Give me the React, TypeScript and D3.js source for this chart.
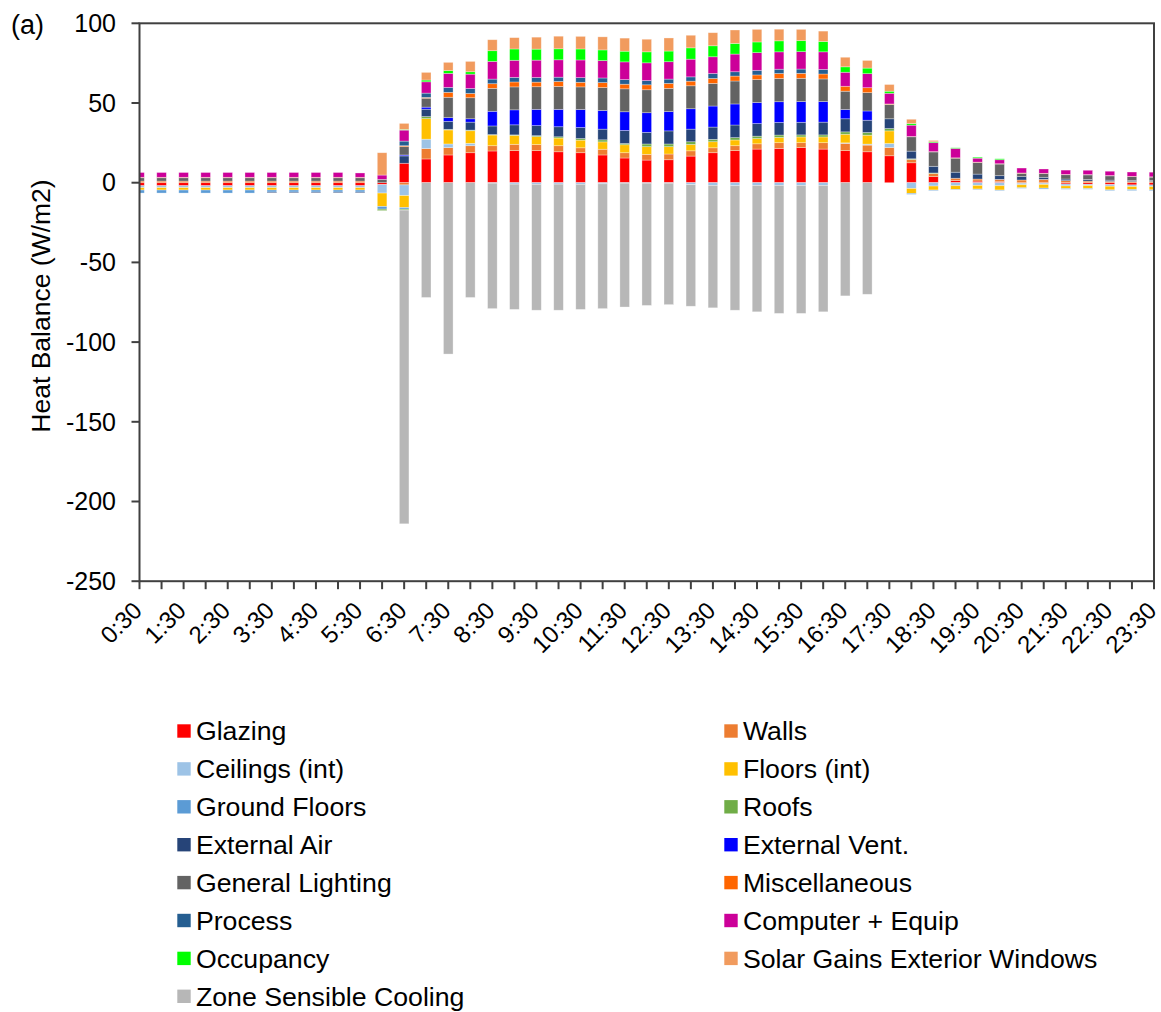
import React from 'react';
import * as d3 from 'd3';

const times = ['0:30','1:00','1:30','2:00','2:30','3:00','3:30','4:00','4:30','5:00','5:30','6:00','6:30','7:00','7:30','8:00','8:30','9:00','9:30','10:00','10:30','11:00','11:30','12:00','12:30','13:00','13:30','14:00','14:30','15:00','15:30','16:00','16:30','17:00','17:30','18:00','18:30','19:00','19:30','20:00','20:30','21:00','21:30','22:00','22:30','23:00','23:30'];

const glazing = [-1.9,-1.9,-1.9,-1.9,-1.9,-1.9,-1.9,-1.9,-1.9,-1.9,-1.9,-1.2,12.2,14.9,17.4,18.8,19.9,20.1,20.1,19.4,18.8,17.4,15.5,14.2,14.4,16.7,18.8,20.1,21.1,21.5,22.0,21.1,20.1,19.4,16.9,12.5,3.8,1.3,1.0,0.6,-0.3,-0.3,-0.8,-1.0,-1.2,-1.4,-1.4];
const walls = [1.0,1.0,1.0,1.0,1.0,1.0,1.0,1.0,1.0,1.0,1.0,0,-1.4,6.5,4.6,4.4,3.3,4.0,3.8,3.8,3.1,3.6,3.3,3.6,3.6,3.3,3.1,3.1,3.3,3.6,3.1,4.0,4.6,4.2,5.2,2.1,2.0,1.5,1.3,1.5,1.7,2.1,1.3,1.0,0.8,0.7,0.8];
const ceilings = [-1.2,-1.2,-1.2,-1.2,-1.2,-1.2,-1.2,-1.2,-1.2,-1.2,-1.2,-5.3,-6.7,5.9,2.3,1.5,-0.3,-0.9,-1.0,-0.9,-1.0,-0.7,-0.3,-0.3,-0.3,-1.2,-1.7,-1.9,-1.7,-1.7,-1.7,-1.7,0.3,0.6,2.5,-3.6,-2.1,-1.9,-1.7,-1.9,-1.0,-0.8,-1.2,-0.8,-1.0,-1.0,-1.0];
const floors = [-1.5,-1.5,-1.5,-1.5,-1.5,-1.5,-1.5,-1.5,-1.5,-1.5,-1.5,-8.4,-7.5,12.9,8.8,7.9,6.7,5.6,5.0,4.8,4.8,4.6,5.0,4.8,4.6,4.0,3.8,3.6,3.3,3.3,3.6,3.6,5.4,5.6,7.9,-3.1,-2.5,-2.3,-2.3,-2.7,-1.9,-2.3,-1.7,-1.9,-2.3,-1.9,-2.1];
const groundFloors = [-1.9,-1.9,-1.9,-1.9,-1.9,-1.9,-1.3,-1.3,-1.3,-1.3,-1.3,-1.7,-1.0,0,0,0,0,0,0,0,0,0,0,0,0,0,0,0,0,0,0,0,0,0,0,-0.6,-0.4,-0.3,-0.3,-0.3,-0.3,-0.6,-0.4,-0.4,-0.4,-0.6,-0.5];
const roofs = [0,0,0,0,0,0,0,0,0,0,0,-0.9,-0.6,1.3,0.4,0.4,0.3,0.3,0.6,0.8,1.0,1.3,0.8,1.7,1.7,1.7,1.5,1.5,1.5,1.5,1.3,1.3,1.5,1.7,1.5,0.4,0.3,0,0,0,0,0,0,0,0,0,0];
const externalAir = [0,0,0,0,0,0,-0.5,-0.5,-0.5,-0.5,-0.5,0,4.6,4.6,5.0,5.0,5.4,6.3,6.3,6.3,6.9,6.7,8.2,7.3,8.2,7.9,7.7,7.9,7.9,7.9,7.9,8.0,8.2,7.7,6.1,4.8,4.2,3.8,3.1,2.3,2.1,1.3,1.0,1.0,0.8,0.6,0.6];
const externalVent = [0,0,0,0,0,0,0,0,0,0,0,0,0.6,1.3,2.3,2.1,9.2,9.4,10.2,10.9,11.3,11.7,11.7,12.3,12.1,12.8,13.2,13.2,13.2,13.0,13.0,12.9,5.8,5.8,0,0,0,0,0,0,0,0,0,0,0,0,0];
const generalLighting = [2.1,2.1,2.1,2.1,2.1,2.1,2.1,2.1,2.1,2.1,2.1,2.1,5.2,5.6,12.8,13.2,14.4,14.4,14.2,14.4,14.2,14.4,14.4,14.4,14.6,14.4,14.2,14.4,14.4,14.6,14.6,14.2,11.5,11.5,9.0,9.0,9.0,8.8,7.3,7.3,2.1,2.3,2.7,2.9,2.7,2.5,2.1];
const miscellaneous = [0.3,0.3,0.3,0.3,0.3,0.3,0.3,0.3,0.3,0.3,0.3,0,0.6,0.5,3.1,2.7,2.9,3.1,2.9,3.1,2.9,3.1,2.9,3.1,3.1,2.9,3.1,3.1,2.9,3.1,3.1,3.1,3.1,3.1,0.3,0.2,0.2,0.2,0.2,0.2,0.2,0.2,0.2,0.2,0.2,0.2,0.2];
const processGains = [0,0,0,0,0,0,0,0,0,0,0,0,2.9,2.7,3.1,3.1,2.9,2.9,2.9,2.7,2.9,2.9,2.9,2.7,2.7,2.7,3.1,2.7,2.9,2.7,2.7,2.9,0,0,0,0,0,0,0,0,0,0,0,0,0,0,0];
const computerEquip = [3.0,3.0,3.0,3.0,3.0,3.0,3.0,3.0,3.0,3.0,2.7,2.7,6.9,7.1,8.8,9.0,11.1,10.7,10.9,10.9,11.1,10.9,11.1,11.1,10.9,11.1,10.5,11.1,11.1,10.9,10.9,11.0,8.8,8.8,6.7,7.1,5.6,5.9,2.5,2.5,3.1,2.7,2.7,2.7,2.7,2.7,2.9];
const occupancy = [0,0,0,0,0,0,0,0,0,0,0,0,0.4,1.1,1.7,1.5,6.7,7.1,6.9,6.9,6.9,6.7,6.7,6.9,6.7,7.1,6.9,6.7,6.7,6.9,6.9,6.5,3.4,3.5,1.3,1.0,0.6,0.4,0.6,0.6,0,0,0,0,0,0,0];
const solarGains = [0,0,0,0,0,0,0,0,0,0,0,14.0,3.8,4.8,5.2,6.5,6.9,7.1,7.5,7.9,7.9,8.2,8.2,7.9,8.2,7.9,8.2,8.4,7.9,7.3,7.1,6.5,6.0,4.8,4.2,2.7,0.8,0,0,0,0,0,0,0,0,0,0];
const zoneCooling = [0,0,0,0,0,0,0,0,0,0,0,0,-196.8,-72,-107.5,-72,-78.7,-78.6,-79.0,-79.1,-78.5,-78.3,-77.7,-76.7,-76.2,-76.3,-76.8,-78.1,-79.3,-80.3,-80.3,-79.3,-71,-70,0,0,0,0,0,0,0,0,0,0,0,0,0];

const seriesNames = ['Glazing','Walls','Ceilings (int)','Floors (int)','Ground Floors','Roofs','External Air','External Vent.','General Lighting','Miscellaneous','Process','Computer + Equip','Occupancy','Solar Gains Exterior Windows','Zone Sensible Cooling'];
const seriesValues = [glazing, walls, ceilings, floors, groundFloors, roofs, externalAir, externalVent, generalLighting, miscellaneous, processGains, computerEquip, occupancy, solarGains, zoneCooling];
const seriesColors = ['#FF0000','#ED7D31','#9DC3E6','#FFC000','#5B9BD5','#70AD47','#264478','#0000FF','#636363','#FF6600','#255E91','#CC0099','#00FF00','#F19B5E','#B7B7B7'];
const yTicks = [100, 50, 0, -50, -100, -150, -200, -250];

const FONT = '"Liberation Sans", Arial, sans-serif';

export default function App() {
  const W = 1161, H = 1012;
  const left = 139.5, right = 1154, top = 23.3, bottom = 581.2;
  const x = d3.scalePoint<string>().domain(times).range([left, right]);
  const y = d3.scaleLinear().domain([-250, 100]).range([bottom, top]);
  const barW = 9.6;

  const rows = times.map((t, i) => {
    const r: any = { time: t };
    seriesNames.forEach((n, k) => { r[n] = seriesValues[k][i]; });
    return r;
  });
  const stacked = d3.stack<any>().keys(seriesNames).offset(d3.stackOffsetDiverging)(rows);

  return (
    <svg width={W} height={H} style={{ position: 'absolute', left: 0, top: 0, display: 'block', background: '#fff' }} fontFamily={FONT}>
      <defs>
        <clipPath id="plotClip">
          <rect x={left} y={top} width={right - left} height={bottom - top} />
        </clipPath>
      </defs>
      <text x={11} y={34} fontSize={27} fill="#000">(a)</text>
      <g clipPath="url(#plotClip)">
        {stacked.map((s, k) => (
          <g key={seriesNames[k]} fill={seriesColors[k]}>
            {s.map((d, i) => {
              const y0 = y(d[0]), y1 = y(d[1]);
              const h = Math.abs(y0 - y1);
              if (h < 0.01) return null;
              return (
                <rect key={i} x={(x(times[i]) as number) - barW / 2} y={Math.min(y0, y1)} width={barW} height={h}
                  stroke="#ffffff" strokeOpacity={0.45} strokeWidth={0.7} />
              );
            })}
          </g>
        ))}
      </g>
      <rect x={left} y={top} width={right - left} height={bottom - top} fill="none" stroke="#404040" strokeWidth={2} />
      {yTicks.map(v => (
        <g key={v}>
          <line x1={left - 8} x2={left} y1={y(v)} y2={y(v)} stroke="#404040" strokeWidth={2} />
          <text x={116} y={y(v)} dy="0.35em" textAnchor="end" fontSize={25} fill="#000">{v}</text>
        </g>
      ))}
      {times.map((t, i) => (
        <g key={t}>
          <line x1={x(t)} x2={x(t)} y1={bottom} y2={bottom + 8} stroke="#404040" strokeWidth={2} />
          {i % 2 === 0 && (
            <text transform={`translate(${(x(t) as number) - 2},${606}) rotate(-45)`} dy="0.35em" textAnchor="end" fontSize={24} fill="#000">{t}</text>
          )}
        </g>
      ))}
      <text transform={`translate(41,306) rotate(-90)`} dy="0.35em" textAnchor="middle" fontSize={26.5} fill="#000">Heat Balance (W/m2)</text>
      {seriesNames.map((n, k) => {
        const col = k % 2, row = Math.floor(k / 2);
        const sx = col === 0 ? 177.3 : 724.3;
        const cy = 731 + row * 37.9;
        return (
          <g key={n}>
            <rect x={sx} y={cy - 6.7} width={13.4} height={13.4} fill={seriesColors[k]} />
            <text x={sx + 18.6} y={cy} dy="0.35em" fontSize={26.7} fill="#000">{n}</text>
          </g>
        );
      })}
    </svg>
  );
}
